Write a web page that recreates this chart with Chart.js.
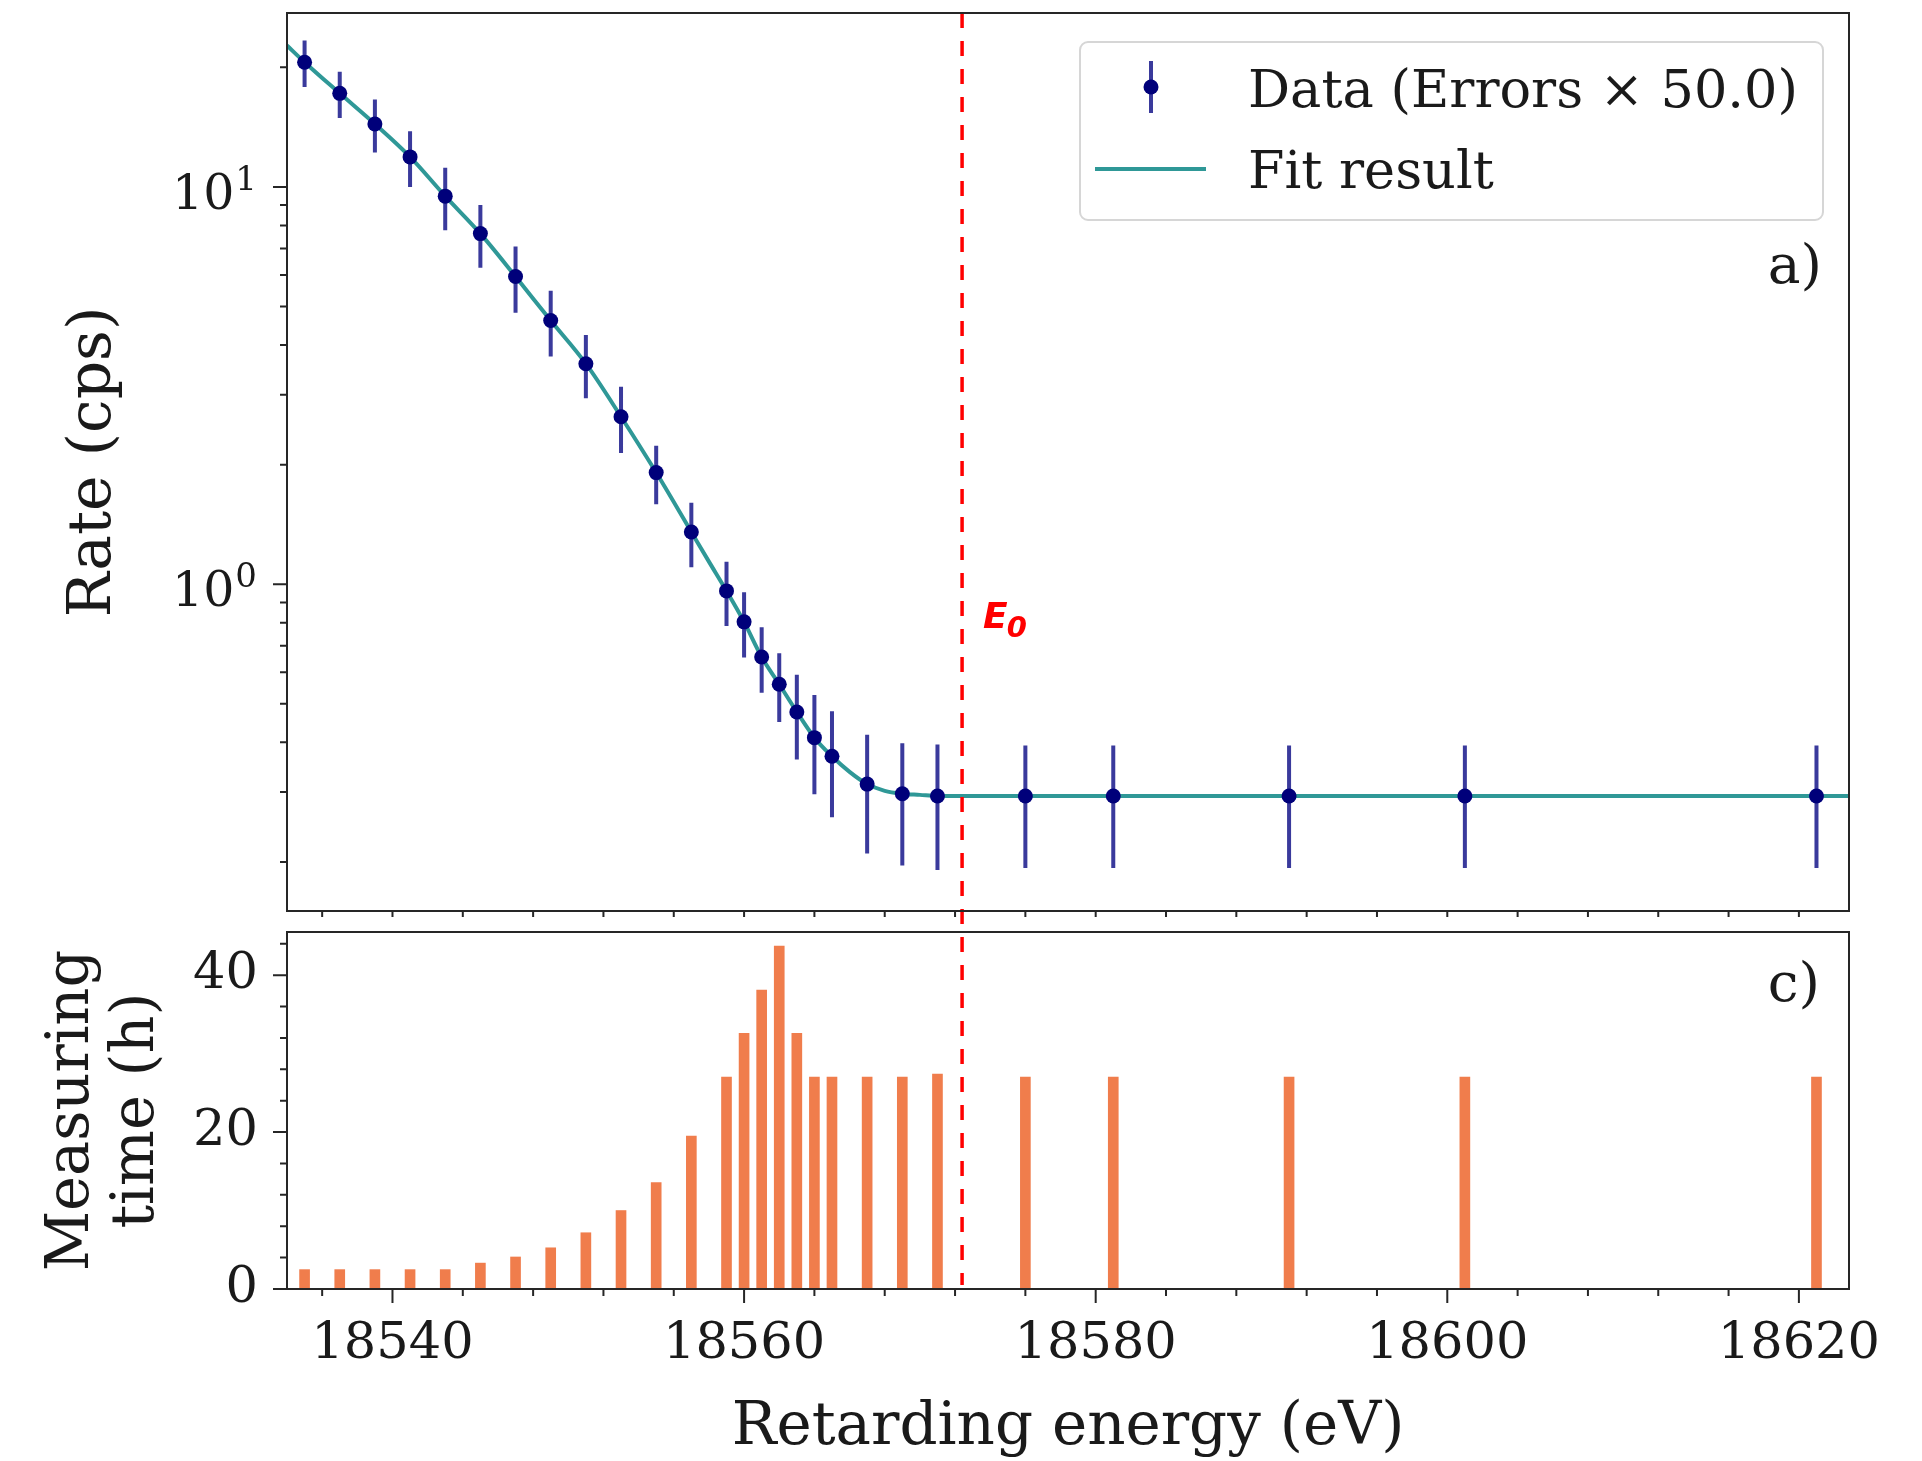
<!DOCTYPE html>
<html>
<head>
<meta charset="utf-8">
<script src="https://cdn.jsdelivr.net/npm/chart.js@4.4.1/dist/chart.umd.min.js"></script>
<style>
  html, body { margin: 0; padding: 0; background: #fff; }
  #wrap { position: relative; width: 1922px; height: 1461px; }
  .panel { position: absolute; left: 0; }
  #ratePanel { top: 0; }
  #timePanel { top: 921px; }
</style>
</head>
<body>
<div id="wrap">
  <div class="panel" id="ratePanel"><canvas id="rateChart" width="1922" height="921"></canvas></div>
  <div class="panel" id="timePanel"><canvas id="timeChart" width="1922" height="540"></canvas></div>
</div>
<script>
  // Retarding energies of the scan points (eV)
  const energies = [18535, 18537, 18539, 18541, 18543, 18545, 18547, 18549, 18551, 18553, 18555, 18557,
    18559, 18560, 18561, 18562, 18563, 18564, 18565, 18567, 18569, 18571, 18576, 18581, 18591, 18601, 18621];
  // Measured rate (cps) and errors (already multiplied by 50)
  const rates = [20.6, 17.2, 14.4, 11.9, 9.48, 7.63, 5.95, 4.61, 3.59, 2.64, 1.91, 1.354,
    0.962, 0.804, 0.656, 0.560, 0.477, 0.411, 0.369, 0.314, 0.297, 0.293, 0.293, 0.293, 0.293, 0.293, 0.293];
  const rateErrors = [2.75, 2.3, 2.2, 1.9, 1.7, 1.37, 1.13, 0.87, 0.65, 0.5, 0.32, 0.25,
    0.177, 0.15, 0.123, 0.11, 0.115, 0.115, 0.11, 0.104, 0.101, 0.102, 0.10, 0.10, 0.10, 0.10, 0.10];
  // Measuring time per scan point (h)
  const hours = [2.47, 2.47, 2.47, 2.47, 2.47, 3.3, 4.08, 5.25, 7.17, 10.0, 13.55, 19.5,
    27.0, 32.6, 38.1, 43.7, 32.6, 27.0, 27.0, 27.0, 27.0, 27.4, 27.0, 27.0, 27.0, 27.0, 27.0];
  // Fit curve, read along the energy axis
  const fitEnergies = [18534, 18535, 18537, 18539, 18541, 18543, 18545, 18547, 18549, 18551, 18553, 18555,
    18557, 18558, 18559, 18560, 18561, 18562, 18563, 18564, 18565, 18566, 18567, 18568, 18569, 18570,
    18571, 18573, 18623];
  const fitRates = [22.7, 20.6, 17.2, 14.4, 11.9, 9.48, 7.63, 5.95, 4.61, 3.59, 2.64, 1.91,
    1.354, 1.14, 0.962, 0.804, 0.656, 0.560, 0.477, 0.411, 0.369, 0.337, 0.314, 0.302, 0.297, 0.295,
    0.293, 0.293, 0.293];
  // Tick values
  const energyTicks = [18540, 18560, 18580, 18600, 18620];
  const rateTicks = [1, 10];
  const hourTicks = [0, 20, 40];
  const e0 = 18572.4;

  const markerColor = '#00007a';
  const errColor = '#3a3a9c';
  const fitColor = '#2f9897';
  const barColor = '#f07d4c';
  const textColor = '#1a1a1a';
  const frameColor = '#262626';
  const serif = 'DejaVu Serif';

  // minor tick positions
  const energyMinor = [];
  for (let e = 18536; e <= 18622; e += 4) if (!energyTicks.includes(e)) energyMinor.push(e);
  const rateMinor = [0.2, 0.3, 0.4, 0.5, 0.6, 0.7, 0.8, 0.9, 2, 3, 4, 5, 6, 7, 8, 9, 20];
  const hourMinor = [4, 8, 12, 16, 24, 28, 32, 36, 44];

  function strokeTicks(ctx, scale, values, len) {
    ctx.beginPath();
    values.forEach(v => {
      const p = scale.getPixelForValue(v);
      if (scale.isHorizontal()) {
        ctx.moveTo(p, scale.top);
        ctx.lineTo(p, scale.top + len);
      } else {
        ctx.moveTo(scale.right, p);
        ctx.lineTo(scale.right - len, p);
      }
    });
    ctx.stroke();
  }

  function drawFrame(chart) {
    const { ctx, chartArea: ca } = chart;
    ctx.save();
    ctx.strokeStyle = frameColor;
    ctx.lineWidth = 2;
    ctx.strokeRect(ca.left, ca.top, ca.right - ca.left, ca.bottom - ca.top);
    ctx.restore();
  }

  function drawE0(chart, yFrom, yTo, dashOffset) {
    const { ctx } = chart;
    const x = chart.scales.x.getPixelForValue(e0);
    ctx.save();
    ctx.strokeStyle = '#ff0000';
    ctx.lineWidth = 3.5;
    ctx.setLineDash([15, 13]);
    ctx.lineDashOffset = dashOffset;
    ctx.beginPath();
    ctx.moveTo(x, yFrom);
    ctx.lineTo(x, yTo);
    ctx.stroke();
    ctx.restore();
  }

  // no label-based padding, the plot areas are placed by hand
  function fixWidth(w) {
    return scale => {
      scale.width = w;
      scale.paddingTop = 0;
      scale.paddingBottom = 0;
    };
  }

  // top panel: rate with error bars and fit
  const ratePlugin = {
    id: 'rateExtras',
    beforeDatasetDraw(chart, args) {
      if (args.index !== 0) return;
      const { ctx, chartArea: ca } = chart;
      const xs = chart.scales.x, ys = chart.scales.y;
      ctx.save();
      ctx.beginPath();
      ctx.rect(ca.left, ca.top, ca.right - ca.left, ca.bottom - ca.top);
      ctx.clip();
      ctx.strokeStyle = errColor;
      ctx.lineWidth = 4;
      ctx.beginPath();
      energies.forEach((e, i) => {
        const x = xs.getPixelForValue(e);
        ctx.moveTo(x, ys.getPixelForValue(rates[i] + rateErrors[i]));
        ctx.lineTo(x, ys.getPixelForValue(rates[i] - rateErrors[i]));
      });
      ctx.stroke();
      ctx.restore();
    },
    afterDatasetsDraw(chart) {
      const { ctx, chartArea: ca } = chart;
      drawE0(chart, ca.top, chart.height, 0);
      // E0 label
      const x = chart.scales.x.getPixelForValue(e0) + 21;
      const y = chart.scales.y.getPixelForValue(0.775);
      ctx.save();
      ctx.fillStyle = '#ff0000';
      ctx.textBaseline = 'alphabetic';
      ctx.textAlign = 'left';
      ctx.font = 'italic bold 36px "DejaVu Sans"';
      ctx.fillText('E', x, y);
      const w = ctx.measureText('E').width;
      ctx.font = 'italic bold 29px "DejaVu Sans"';
      ctx.fillText('0', x + w - 1, y + 9);
      ctx.restore();
    },
    afterDraw(chart) {
      const { ctx, chartArea: ca } = chart;
      const xs = chart.scales.x, ys = chart.scales.y;
      drawFrame(chart);
      ctx.save();
      ctx.strokeStyle = frameColor;
      ctx.lineWidth = 2;
      strokeTicks(ctx, ys, rateTicks, 14);
      strokeTicks(ctx, ys, rateMinor, 7);
      strokeTicks(ctx, xs, energyTicks, 6);
      strokeTicks(ctx, xs, energyMinor, 6);
      // log tick labels 10^n
      ctx.fillStyle = textColor;
      ctx.textAlign = 'right';
      ctx.textBaseline = 'alphabetic';
      rateTicks.forEach(v => {
        const y = ys.getPixelForValue(v);
        const exp = String(Math.round(Math.log10(v)));
        const right = ca.left - 30;
        ctx.font = `34px "${serif}"`;
        ctx.fillText(exp, right, y + 3);
        const ew = ctx.measureText(exp).width;
        ctx.font = `49px "${serif}"`;
        ctx.fillText('10', right - ew - 1, y + 22);
      });
      // panel tag
      ctx.font = `55px "${serif}"`;
      ctx.fillText('a)', ca.right - 27, ca.top + 270);
      // legend
      const left = ca.right - 769, top = ca.top + 29, w = 743, h = 178;
      ctx.beginPath();
      ctx.roundRect(left, top, w, h, 8);
      ctx.fillStyle = 'rgba(255,255,255,0.85)';
      ctx.fill();
      ctx.lineWidth = 2;
      ctx.strokeStyle = '#d6d6d6';
      ctx.stroke();
      const hx = left + 71;
      ctx.strokeStyle = errColor;
      ctx.lineWidth = 4;
      ctx.beginPath();
      ctx.moveTo(hx, top + 19);
      ctx.lineTo(hx, top + 71);
      ctx.stroke();
      ctx.fillStyle = markerColor;
      ctx.beginPath();
      ctx.arc(hx, top + 45, 7.5, 0, Math.PI * 2);
      ctx.fill();
      ctx.strokeStyle = fitColor;
      ctx.lineWidth = 4;
      ctx.beginPath();
      ctx.moveTo(left + 15, top + 127);
      ctx.lineTo(left + 126, top + 127);
      ctx.stroke();
      ctx.fillStyle = textColor;
      ctx.textAlign = 'left';
      ctx.font = `52.5px "${serif}"`;
      ctx.fillText(chart.data.datasets[0].label, left + 168, top + 65);
      ctx.fillText(chart.data.datasets[1].label, left + 168, top + 146);
      ctx.restore();
    }
  };

  const rateChart = new Chart(document.getElementById('rateChart').getContext('2d'), {
    type: 'scatter',
    data: {
      datasets: [{
        label: 'Data (Errors × 50.0)',
        data: energies.map((e, i) => ({ x: e, y: rates[i] })),
        pointRadius: 7.5,
        pointBackgroundColor: markerColor,
        pointBorderWidth: 0,
        showLine: false
      }, {
        label: 'Fit result',
        data: fitEnergies.map((e, i) => ({ x: e, y: fitRates[i] })),
        showLine: true,
        pointRadius: 0,
        borderColor: fitColor,
        borderWidth: 4,
        cubicInterpolationMode: 'monotone'
      }]
    },
    options: {
      responsive: false,
      animation: false,
      layout: { padding: { left: 0, top: 13, right: 73, bottom: 0 } },
      plugins: { legend: { display: false }, tooltip: { enabled: false } },
      scales: {
        x: {
          type: 'linear',
          min: 18534,
          max: 18622.85,
          grid: { display: false },
          border: { display: false },
          ticks: { display: false },
          afterFit(scale) { scale.height = 10; }
        },
        y: {
          type: 'logarithmic',
          min: 0.1505,
          max: 27.4,
          grid: { display: false },
          border: { display: false },
          ticks: { display: false },
          title: {
            display: true,
            text: 'Rate (cps)',
            color: textColor,
            font: { family: serif, size: 60, lineHeight: 1.2 },
            padding: { top: 58, bottom: 0 }
          },
          afterFit: fixWidth(287)
        }
      }
    },
    plugins: [ratePlugin]
  });

  // bottom panel: measuring time
  const timePlugin = {
    id: 'timeExtras',
    afterDatasetsDraw(chart) {
      const { chartArea: ca } = chart;
      // keep the dash pattern continuous with the top panel
      drawE0(chart, 0, ca.bottom - 4, (921 - 13) % 28);
    },
    afterDraw(chart) {
      const { ctx, chartArea: ca } = chart;
      const xs = chart.scales.x, ys = chart.scales.y;
      drawFrame(chart);
      ctx.save();
      ctx.strokeStyle = frameColor;
      ctx.lineWidth = 2;
      strokeTicks(ctx, ys, hourTicks, 14);
      strokeTicks(ctx, ys, hourMinor, 7);
      strokeTicks(ctx, xs, energyTicks, 14);
      strokeTicks(ctx, xs, energyMinor, 7);
      ctx.fillStyle = textColor;
      ctx.textAlign = 'right';
      ctx.textBaseline = 'alphabetic';
      ctx.font = `55px "${serif}"`;
      ctx.fillText('c)', ca.right - 29, ca.top + 69);
      ctx.restore();
    }
  };

  const timeChart = new Chart(document.getElementById('timeChart').getContext('2d'), {
    type: 'bar',
    data: {
      datasets: [{
        label: 'Measuring time',
        data: energies.map((e, i) => ({ x: e, y: hours[i] })),
        backgroundColor: barColor,
        borderWidth: 0,
        barThickness: 10
      }]
    },
    options: {
      responsive: false,
      animation: false,
      layout: { padding: { left: 0, top: 11, right: 73, bottom: 0 } },
      plugins: { legend: { display: false }, tooltip: { enabled: false } },
      scales: {
        x: {
          type: 'linear',
          offset: false,
          min: 18534,
          max: 18622.85,
          grid: { display: false },
          border: { display: false },
          afterBuildTicks(scale) { scale.ticks = energyTicks.map(v => ({ value: v })); },
          ticks: {
            autoSkip: false,
            maxRotation: 0,
            padding: 17,
            color: textColor,
            font: { family: serif, size: 51 },
            callback: v => String(v)
          },
          title: {
            display: true,
            text: 'Retarding energy (eV)',
            color: textColor,
            font: { family: serif, size: 59.5, lineHeight: 1.1 },
            padding: { top: 0, bottom: 0 }
          },
          afterFit(scale) { scale.height = 172; }
        },
        y: {
          min: 0,
          max: 45.5,
          grid: { display: false },
          border: { display: false },
          afterBuildTicks(scale) { scale.ticks = hourTicks.map(v => ({ value: v })); },
          ticks: {
            padding: 21,
            color: textColor,
            font: { family: serif, size: 51 }
          },
          title: {
            display: true,
            text: ['Measuring', 'time (h)'],
            color: textColor,
            font: { family: serif, size: 59, lineHeight: 1.09 },
            padding: { top: 41, bottom: 0 }
          },
          afterFit: fixWidth(287)
        }
      }
    },
    plugins: [timePlugin]
  });
</script>
</body>
</html>
